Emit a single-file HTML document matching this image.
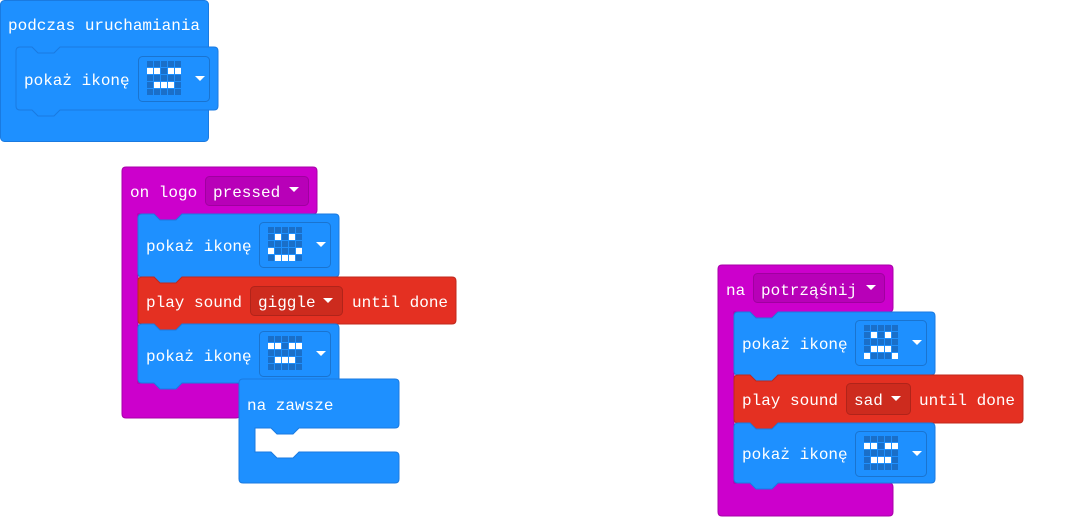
<!DOCTYPE html>
<html><head><meta charset="utf-8"><style>
html,body{margin:0;padding:0;background:#fff;}
svg{display:block;}
text{font-family:"Liberation Mono",monospace;font-size:16px;fill:#fff;}
</style></head><body>
<svg width="1075" height="517" viewBox="0 0 1075 517" xmlns="http://www.w3.org/2000/svg">
<defs>
<g id="grid">
<g fill="#1a6fc9">
<rect x="9" y="5" width="6" height="6"/><rect x="16" y="5" width="6" height="6"/><rect x="23" y="5" width="6" height="6"/><rect x="30" y="5" width="6" height="6"/><rect x="37" y="5" width="6" height="6"/>
<rect x="9" y="12" width="6" height="6"/><rect x="16" y="12" width="6" height="6"/><rect x="23" y="12" width="6" height="6"/><rect x="30" y="12" width="6" height="6"/><rect x="37" y="12" width="6" height="6"/>
<rect x="9" y="19" width="6" height="6"/><rect x="16" y="19" width="6" height="6"/><rect x="23" y="19" width="6" height="6"/><rect x="30" y="19" width="6" height="6"/><rect x="37" y="19" width="6" height="6"/>
<rect x="9" y="26" width="6" height="6"/><rect x="16" y="26" width="6" height="6"/><rect x="23" y="26" width="6" height="6"/><rect x="30" y="26" width="6" height="6"/><rect x="37" y="26" width="6" height="6"/>
<rect x="9" y="33" width="6" height="6"/><rect x="16" y="33" width="6" height="6"/><rect x="23" y="33" width="6" height="6"/><rect x="30" y="33" width="6" height="6"/><rect x="37" y="33" width="6" height="6"/>
</g>
<rect x="0.5" y="0.5" width="71" height="45" rx="4" fill="none" stroke="#1a74d0"/>
<path d="M57,20 h10 l-5,5 z" fill="#fff"/>
</g>
<g id="iconA"><use href="#grid"/><g fill="#fff">
<rect x="9" y="12" width="6" height="6"/><rect x="16" y="12" width="6" height="6"/><rect x="30" y="12" width="6" height="6"/><rect x="37" y="12" width="6" height="6"/>
<rect x="16" y="26" width="6" height="6"/><rect x="23" y="26" width="6" height="6"/><rect x="30" y="26" width="6" height="6"/></g></g>
<g id="iconB"><use href="#grid"/><g fill="#fff">
<rect x="16" y="12" width="6" height="6"/><rect x="30" y="12" width="6" height="6"/>
<rect x="9" y="26" width="6" height="6"/><rect x="37" y="26" width="6" height="6"/>
<rect x="16" y="33" width="6" height="6"/><rect x="23" y="33" width="6" height="6"/><rect x="30" y="33" width="6" height="6"/></g></g>
<g id="iconC"><use href="#grid"/><g fill="#fff">
<rect x="16" y="12" width="6" height="6"/><rect x="30" y="12" width="6" height="6"/>
<rect x="16" y="26" width="6" height="6"/><rect x="23" y="26" width="6" height="6"/><rect x="30" y="26" width="6" height="6"/>
<rect x="9" y="33" width="6" height="6"/><rect x="37" y="33" width="6" height="6"/></g></g>
</defs>

<!-- Block 1 -->
<rect x="0.5" y="0.5" width="208" height="141" rx="4" fill="#1e90ff" stroke="#1a7ae0"/>
<text x="8" y="30">podczas uruchamiania</text>
<path d="M20,47 h12 l6,6 h16 l6,-6 H214 q4,0 4,4 V106 q0,4 -4,4 H60 l-6,6 h-16 l-6,-6 H20 q-4,0 -4,-4 V51 q0,-4 4,-4 Z" fill="#1e90ff" stroke="#1a7ae0"/>
<text x="24" y="85">pokaż ikonę</text>
<use href="#iconA" x="138" y="56"/>

<!-- Block 2 -->
<path d="M126,167 H313 q4,0 4,4 V210 q0,4 -4,4 H182 l-6,6 h-16 l-6,-6 H138 V383 H236 q4,0 4,4 V414 q0,4 -4,4 H126 q-4,0 -4,-4 V171 q0,-4 4,-4 Z" fill="#cc00cc" stroke="#a800a8"/>
<text x="130" y="197">on logo</text>
<rect x="205.5" y="176.5" width="103" height="29" rx="4" fill="#b800b8" stroke="#a000a0"/>
<text x="213" y="197">pressed</text>
<path d="M289,187 h10 l-5,5 z" fill="#fff"/>

<path d="M142,214 h12 l6,6 h16 l6,-6 H335 q4,0 4,4 V273 q0,4 -4,4 H182 l-6,6 h-16 l-6,-6 H142 q-4,0 -4,-4 V218 q0,-4 4,-4 Z" fill="#1e90ff" stroke="#1a7ae0"/>
<text x="146" y="251">pokaż ikonę</text>
<use href="#iconB" x="259" y="222"/>

<path d="M142,277 h12 l6,6 h16 l6,-6 H452 q4,0 4,4 V320 q0,4 -4,4 H182 l-6,6 h-16 l-6,-6 H142 q-4,0 -4,-4 V281 q0,-4 4,-4 Z" fill="#e43022" stroke="#c0281c"/>
<text x="146" y="307">play sound</text>
<rect x="250.5" y="286.5" width="92" height="29" rx="4" fill="#cd2b1e" stroke="#b0241a"/>
<text x="258" y="307">giggle</text>
<path d="M323,298 h10 l-5,5 z" fill="#fff"/>
<text x="352" y="307">until done</text>

<path d="M142,324 h12 l6,6 h16 l6,-6 H335 q4,0 4,4 V379 q0,4 -4,4 H182 l-6,6 h-16 l-6,-6 H142 q-4,0 -4,-4 V328 q0,-4 4,-4 Z" fill="#1e90ff" stroke="#1a7ae0"/>
<text x="146" y="361">pokaż ikonę</text>
<use href="#iconA" x="259" y="331"/>

<!-- na zawsze -->
<path d="M243,379 H395 q4,0 4,4 V424 q0,4 -4,4 H299 l-6,6 h-16 l-6,-6 H255 V452 H271 l6,6 h16 l6,-6 H395 q4,0 4,4 V479 q0,4 -4,4 H243 q-4,0 -4,-4 V383 q0,-4 4,-4 Z" fill="#1e90ff" stroke="#1a7ae0"/>
<text x="247" y="410">na zawsze</text>

<!-- Block 3 -->
<path d="M722,265 H889 q4,0 4,4 V308 q0,4 -4,4 H778 l-6,6 h-16 l-6,-6 H734 V483 H889 q4,0 4,4 V512 q0,4 -4,4 H722 q-4,0 -4,-4 V269 q0,-4 4,-4 Z" fill="#cc00cc" stroke="#a800a8"/>
<text x="726" y="295">na</text>
<rect x="753.5" y="273.5" width="131" height="29" rx="4" fill="#b800b8" stroke="#a000a0"/>
<text x="761" y="295">potrząśnij</text>
<path d="M866,285 h10 l-5,5 z" fill="#fff"/>

<path d="M738,312 h12 l6,6 h16 l6,-6 H931 q4,0 4,4 V371 q0,4 -4,4 H778 l-6,6 h-16 l-6,-6 H738 q-4,0 -4,-4 V316 q0,-4 4,-4 Z" fill="#1e90ff" stroke="#1a7ae0"/>
<text x="742" y="349">pokaż ikonę</text>
<use href="#iconC" x="855" y="320"/>

<path d="M738,375 h12 l6,6 h16 l6,-6 H1019 q4,0 4,4 V419 q0,4 -4,4 H778 l-6,6 h-16 l-6,-6 H738 q-4,0 -4,-4 V379 q0,-4 4,-4 Z" fill="#e43022" stroke="#c0281c"/>
<text x="742" y="405">play sound</text>
<rect x="846.5" y="383.5" width="64" height="31" rx="4" fill="#cd2b1e" stroke="#b0241a"/>
<text x="854" y="405">sad</text>
<path d="M891,396 h10 l-5,5 z" fill="#fff"/>
<text x="919" y="405">until done</text>

<path d="M738,423 h12 l6,6 h16 l6,-6 H931 q4,0 4,4 V479 q0,4 -4,4 H778 l-6,6 h-16 l-6,-6 H738 q-4,0 -4,-4 V427 q0,-4 4,-4 Z" fill="#1e90ff" stroke="#1a7ae0"/>
<text x="742" y="459">pokaż ikonę</text>
<use href="#iconA" x="855" y="431"/>
</svg>
</body></html>
